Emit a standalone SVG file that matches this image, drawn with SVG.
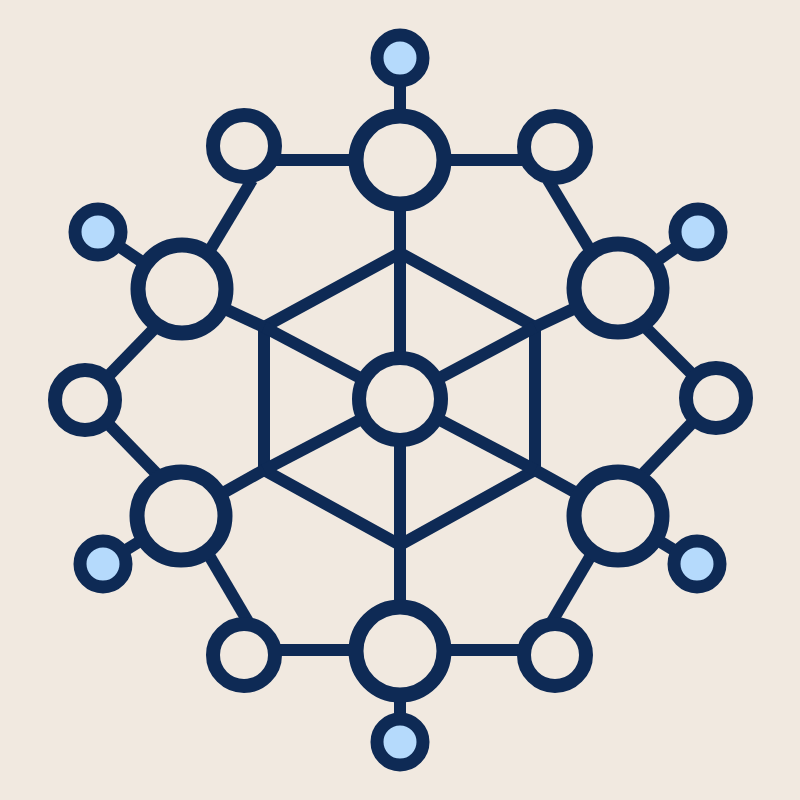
<svg xmlns="http://www.w3.org/2000/svg" width="800" height="800" viewBox="0 0 800 800">
  <style>
    .edge { stroke: #0e2a55; stroke-width: 12; fill: none; stroke-linecap: butt; stroke-linejoin: miter; }
    .hub { fill: #f1e9e0; stroke: #0e2a55; stroke-width: 14; }
    .big { fill: #f1e9e0; stroke: #0e2a55; stroke-width: 15; }
    .ring { fill: #f1e9e0; stroke: #0e2a55; stroke-width: 14; }
    .leaf { fill: #b5dafc; stroke: #0e2a55; stroke-width: 13; }
  </style>
  <rect width="800" height="800" fill="#f1e9e0"/>
  <g id="connectors">
    <polygon class="edge" points="400,253 535,327 535,470 400,545 264,470 264,327"/>
    <line class="edge" x1="400" y1="58" x2="400" y2="742"/>
    <line class="edge" x1="400" y1="399" x2="535" y2="327"/>
    <line class="edge" x1="400" y1="399" x2="535" y2="470"/>
    <line class="edge" x1="400" y1="399" x2="264" y2="470"/>
    <line class="edge" x1="400" y1="399" x2="264" y2="327"/>
    <line class="edge" x1="535" y1="327" x2="618" y2="288"/>
    <line class="edge" x1="535" y1="470" x2="618" y2="516"/>
    <line class="edge" x1="264" y1="470" x2="182" y2="516"/>
    <line class="edge" x1="264" y1="327" x2="182" y2="289"/>
    <line class="edge" x1="244" y1="160" x2="555" y2="160"/>
    <line class="edge" x1="244" y1="650" x2="555" y2="650"/>
    <line class="edge" x1="252" y1="180" x2="186" y2="290"/>
    <line class="edge" x1="548" y1="180" x2="614" y2="290"/>
    <line class="edge" x1="200" y1="540" x2="250" y2="625"/>
    <line class="edge" x1="600" y1="540" x2="550" y2="625"/>
    <line class="edge" x1="85" y1="400" x2="185" y2="297"/>
    <line class="edge" x1="85" y1="400" x2="185" y2="503"/>
    <line class="edge" x1="716" y1="398" x2="615" y2="297"/>
    <line class="edge" x1="716" y1="398" x2="615" y2="503"/>
    <line class="edge" x1="182" y1="289" x2="98" y2="232"/>
    <line class="edge" x1="618" y1="288" x2="698" y2="232"/>
    <line class="edge" x1="181" y1="516" x2="103" y2="564"/>
    <line class="edge" x1="618" y1="516" x2="697" y2="564"/>
  </g>
  <g id="center"><circle class="hub" cx="400" cy="399" r="41"/></g>
  <g id="big-top"><circle class="big" cx="400" cy="160" r="44"/></g>
  <g id="big-upper-right"><circle class="big" cx="618" cy="288" r="44"/></g>
  <g id="big-lower-right"><circle class="big" cx="618" cy="516" r="44"/></g>
  <g id="big-bottom"><circle class="big" cx="400" cy="651" r="44"/></g>
  <g id="big-lower-left"><circle class="big" cx="181" cy="516" r="44"/></g>
  <g id="big-upper-left"><circle class="big" cx="182" cy="289" r="44"/></g>
  <g id="ring-upper-left"><circle class="ring" cx="244" cy="146" r="31"/></g>
  <g id="ring-upper-right"><circle class="ring" cx="555" cy="147" r="31"/></g>
  <g id="ring-right"><circle class="ring" cx="716" cy="398" r="30"/></g>
  <g id="ring-lower-right"><circle class="ring" cx="555" cy="655" r="31"/></g>
  <g id="ring-lower-left"><circle class="ring" cx="244" cy="655" r="31"/></g>
  <g id="ring-left"><circle class="ring" cx="85" cy="400" r="30"/></g>
  <g id="leaf-top"><circle class="leaf" cx="400" cy="58" r="23"/></g>
  <g id="leaf-upper-right"><circle class="leaf" cx="698" cy="232" r="23"/></g>
  <g id="leaf-lower-right"><circle class="leaf" cx="697" cy="564" r="23"/></g>
  <g id="leaf-bottom"><circle class="leaf" cx="400" cy="742" r="23"/></g>
  <g id="leaf-lower-left"><circle class="leaf" cx="103" cy="564" r="23"/></g>
  <g id="leaf-upper-left"><circle class="leaf" cx="98" cy="232" r="23"/></g>
</svg>
